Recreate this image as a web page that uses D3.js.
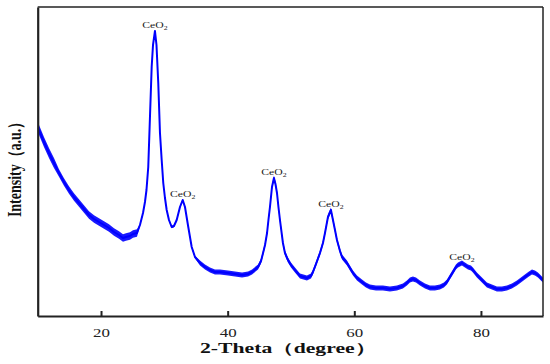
<!DOCTYPE html>
<html>
<head>
<meta charset="utf-8">
<script src="https://cdn.jsdelivr.net/npm/d3@7"></script>
<style>
  html, body { margin: 0; padding: 0; background: #fff; }
  svg { display: block; }
</style>
</head>
<body>
<svg id="chart" width="550" height="364"></svg>
<script>
// ---- data ----
const twoTheta = [10.05,10.21,10.99,11.78,12.57,13.36,14.15,14.94,15.73,16.52,17.31,18.10,18.89,19.68,20.47,21.26,22.05,22.84,23.47,23.94,24.57,25.05,25.68,26.15,26.63,26.94,27.18,27.46,27.73,28.00,28.21,28.52,28.76,29.04,29.31,29.58,29.83,30.10,30.37,30.73,31.16,31.52,31.95,32.47,32.90,33.26,33.78,34.32,34.84,35.63,36.42,37.21,38.00,38.79,40.05,41.16,42.27,43.22,43.85,44.80,45.27,45.59,45.90,46.22,46.44,46.68,47.00,47.31,47.55,47.79,48.02,48.26,48.73,49.05,49.52,50.00,50.63,51.42,52.52,53.16,53.47,53.95,54.58,55.05,55.37,55.84,56.31,56.63,56.95,57.26,57.74,58.06,58.84,59.31,59.79,60.42,61.21,61.84,62.47,63.42,64.52,65.63,66.73,67.68,68.31,68.79,69.26,69.74,70.37,71.16,71.95,72.73,73.52,74.15,74.63,75.10,75.58,76.05,76.37,77.00,77.47,77.95,78.42,78.73,79.36,79.84,80.47,80.94,81.73,82.52,83.31,84.10,84.89,85.68,86.31,86.94,87.58,88.06,88.53,89.00,89.47,89.79];
const intensity = [1880,1860,1740,1630,1530,1430,1340,1260,1190,1130,1070,1010,970,940,910,880,840,810,780,790,800,820,830,910,1030,1140,1260,1490,1990,2490,2710,2850,2710,2330,1830,1560,1330,1180,1060,960,890,900,960,1090,1160,1090,890,690,590,530,490,460,440,440,430,420,410,420,440,490,550,630,710,830,960,1090,1290,1380,1320,1230,1090,960,730,630,560,510,460,400,380,400,440,520,630,730,830,990,1060,960,860,760,650,590,530,480,430,380,340,310,290,280,280,270,280,300,330,360,370,360,330,300,280,280,290,310,340,390,440,490,510,530,510,490,480,460,410,380,340,310,290,270,270,280,300,330,360,390,420,440,430,410,380,360];
// noise band half-width (intensity units) by 2θ region
const noiseFrom = [10, 13, 26, 35];
const noiseHalf = [50, 38, 12, 25];
// peak annotations
const peakTheta = [28.52, 32.90, 47.31, 56.31, 77.00];
const peakInt = [2850, 1160, 1380, 1060, 530];
const peakPhase = ["CeO", "CeO", "CeO", "CeO", "CeO"];
const xTicks = [20, 40, 60, 80];
const xTitle = "2-Theta（degree）";
const yTitle = "Intensity（a.u.）";

// ---- layout ----
const mLeft = 37.7, mRight = 543, mTop = 7, mBottom = 316;
const svg = d3.select("#chart");
const x = d3.scaleLinear().domain([10, 89.8]).range([mLeft, mRight]);
const y = d3.scaleLinear().domain([0, 3090]).range([mBottom, mTop]);

const data = twoTheta.map((t, i) => ({ t, v: intensity[i] }));
const halfAt = t => noiseHalf[Math.max(0, d3.bisectRight(noiseFrom, t) - 1)];

svg.append("clipPath").attr("id", "clip")
  .append("rect").attr("x", mLeft).attr("y", mTop).attr("width", mRight - mLeft).attr("height", mBottom - mTop);

const g = svg.append("g").attr("clip-path", "url(#clip)");
g.append("path").datum(data)
  .attr("d", d3.area().x(d => x(d.t)).y0(d => y(d.v - halfAt(d.t))).y1(d => y(d.v + halfAt(d.t))))
  .attr("fill", "#0000ff").attr("fill-opacity", 0.9);
g.append("path").datum(data)
  .attr("d", d3.line().x(d => x(d.t)).y(d => y(d.v)))
  .attr("fill", "none").attr("stroke", "#0000ff").attr("stroke-width", 2).attr("stroke-linejoin", "round");

// frame
svg.append("line").attr("x1", mLeft).attr("x2", mRight).attr("y1", mTop).attr("y2", mTop).attr("stroke", "#222").attr("stroke-width", 1.5);
svg.append("line").attr("x1", mRight).attr("x2", mRight).attr("y1", mTop).attr("y2", mBottom).attr("stroke", "#222").attr("stroke-width", 1.5);

// x axis
const xAxis = d3.axisBottom(x).tickValues(xTicks).tickSizeInner(-5).tickSizeOuter(0).tickPadding(12);
const ax = svg.append("g").attr("transform", `translate(0,${mBottom})`).call(xAxis);
ax.select(".domain").attr("stroke", "#222").attr("stroke-width", 2.2);
ax.selectAll(".tick line").attr("stroke", "#222").attr("stroke-width", 2);
ax.selectAll(".tick text").attr("font-family", "Liberation Serif, serif").attr("font-size", 13).attr("fill", "#222")
  .attr("transform", "scale(1.3,1)");

// y axis (no ticks)
const yAxis = d3.axisLeft(y).tickValues([]).tickSizeOuter(0);
const ay = svg.append("g").attr("transform", `translate(${mLeft},0)`).call(yAxis);
ay.select(".domain").attr("stroke", "#222").attr("stroke-width", 2.2);

// titles
svg.append("text").attr("transform", "translate(288,353) scale(1.55,1)").attr("text-anchor", "middle")
  .attr("font-family", "Liberation Serif, serif").attr("font-weight", "bold").attr("font-size", 14).attr("fill", "#111")
  .text(xTitle);
svg.append("text").attr("transform", "translate(20.5,166) rotate(-90) scale(1,1.3)").attr("text-anchor", "middle")
  .attr("font-family", "Liberation Serif, serif").attr("font-weight", "bold").attr("font-size", 14).attr("fill", "#111")
  .text(yTitle);

// peak labels
peakTheta.forEach((t, i) => {
  const tx = svg.append("text")
    .attr("transform", `translate(${x(t)},${y(peakInt[i]) - 3}) scale(1.3,1)`)
    .attr("text-anchor", "middle")
    .attr("font-family", "Liberation Serif, serif").attr("font-size", 9).attr("fill", "#222");
  tx.append("tspan").text(peakPhase[i]);
  tx.append("tspan").attr("font-size", 6).attr("dy", 2).text("2");
});
</script>
</body>
</html>
